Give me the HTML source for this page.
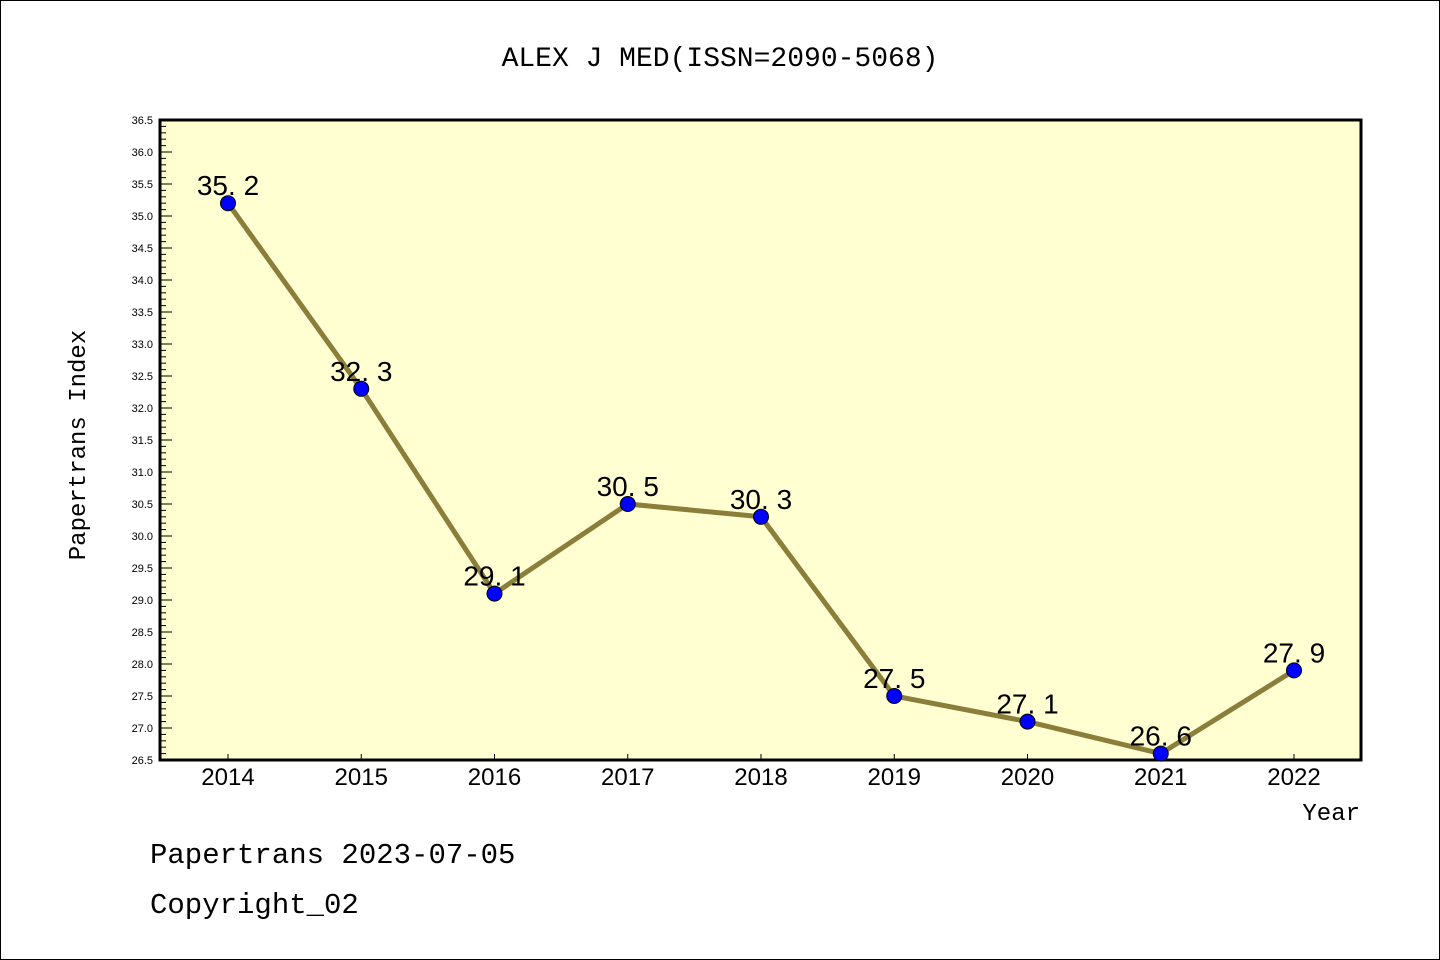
<!DOCTYPE html>
<html><head><meta charset="utf-8"><style>
body{margin:0;background:#fff}
svg{display:block}
text{font-family:"Liberation Sans","DejaVu Sans",sans-serif;fill:#000}
</style></head><body>
<svg id="chart" width="1440" height="960" xmlns="http://www.w3.org/2000/svg">
<rect x="0.5" y="0.5" width="1439" height="959" fill="#fff" stroke="#000"/>
<text x="720" y="66" font-size="28" text-anchor="middle" style="font-family:'Liberation Mono',monospace">ALEX J MED(ISSN=2090-5068)</text>
<rect x="160" y="120" width="1201" height="640" fill="#ffffd2" stroke="#000" stroke-width="3"/>
<g id="yticks"></g><g id="xticks"></g><g id="series"></g>
<text x="85" y="445" font-size="24" text-anchor="middle" transform="rotate(-90 85 445)" style="font-family:'Liberation Mono',monospace">Papertrans Index</text>
<text x="1360" y="820" font-size="24" text-anchor="end" style="font-family:'Liberation Mono',monospace">Year</text>
<text x="150" y="863" font-size="29" style="font-family:'Liberation Mono',monospace">Papertrans 2023-07-05</text>
<text x="150" y="913" font-size="29" style="font-family:'Liberation Mono',monospace">Copyright_02</text>
</svg>
<script>
const years=["2014","2015","2016","2017","2018","2019","2020","2021","2022"];
const values=[35.2,32.3,29.1,30.5,30.3,27.5,27.1,26.6,27.9];
const labels=["35.2","32.3","29.1","30.5","30.3","27.5","27.1","26.6","27.9"];
const yMin=26.5,yMax=36.5;
const NS="http://www.w3.org/2000/svg";
const L=160,R=1361,T=120,B=760;
const x=i=>228+i*(1294-228)/(years.length-1);
const y=v=>B-(v-yMin)/(yMax-yMin)*(B-T);
function mk(tag,attrs,parent){const e=document.createElementNS(NS,tag);for(const k in attrs)e.setAttribute(k,attrs[k]);parent.appendChild(e);return e;}
const yt=document.getElementById('yticks');
for(let k=0;k<=100;k++){const v=yMin+k*0.1;const major=k%5===0;const py=y(v);
 const ln=mk('line',{x1:L,x2:L+(major?12:6),y1:py,y2:py,stroke:'#000','stroke-width':1},yt);
 
 
 if(major){const t=mk('text',{x:153,y:py+4,'font-size':11,'text-anchor':'end'},yt);t.textContent=v.toFixed(1);
 
 }}
const xt=document.getElementById('xticks');
years.forEach((yr,i)=>{const ln=mk('line',{x1:x(i),x2:x(i),y1:B,y2:B-6,stroke:'#000'},xt);
 
 
 const t=mk('text',{x:x(i),y:785,'font-size':24,'text-anchor':'middle'},xt);t.textContent=yr;
 
 });
const s=document.getElementById('series');
const pl=mk('polyline',{points:values.map((v,i)=>x(i)+','+y(v)).join(' '),fill:'none',stroke:'#8b7d3a','stroke-width':5},s);


values.forEach((v,i)=>{const c=mk('circle',{cx:x(i),cy:y(v),r:7.5,fill:'#0000ff',stroke:'#000','stroke-width':1},s);
 
 
 const t=mk('text',{x:x(i),y:y(v)-8,'font-size':28,'text-anchor':'middle'},s);t.textContent=labels[i].replace('.','. ');
 
 });
</script>
</body></html>
